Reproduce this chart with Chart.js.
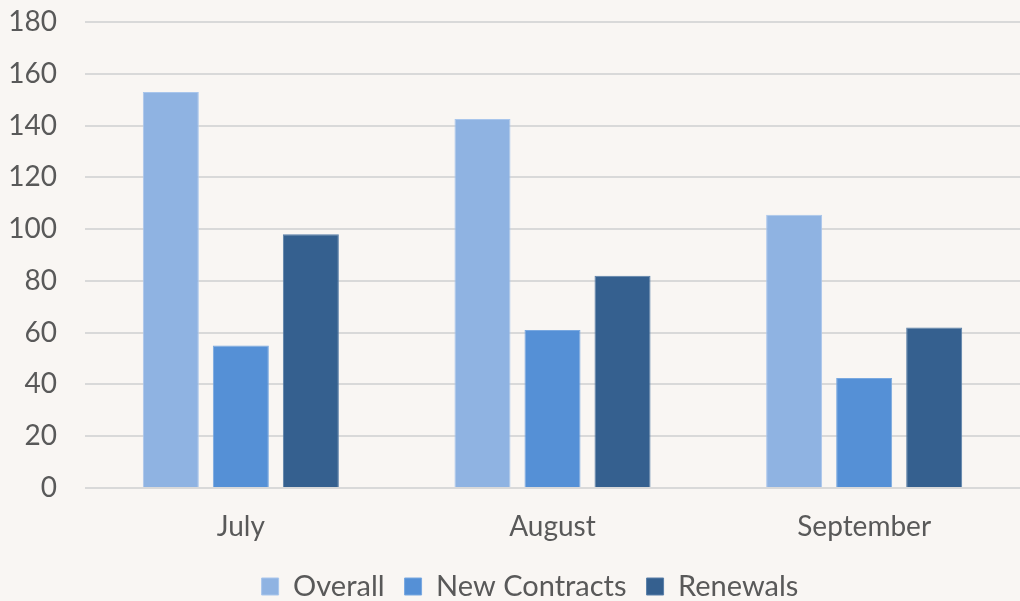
<!DOCTYPE html>
<html><head><meta charset="utf-8">
<script src="https://cdn.jsdelivr.net/npm/chart.js@4/dist/chart.umd.min.js"></script>
<style>html,body{margin:0;padding:0;background:#F9F6F3;}#wrap{width:1020px;height:601px;}</style>
</head><body><div id="wrap"><canvas id="c" width="1020" height="601"></canvas></div>
<script>
const categories = ["July", "August", "September"];
const overall = [153, 142.5, 105.5];
const newContracts = [55, 61, 42.5];
const renewals = [98, 82, 62];
const yTicks = [0, 20, 40, 60, 80, 100, 120, 140, 160, 180];

const bg = {id:'bg', beforeDraw(c){const x=c.ctx;x.save();x.fillStyle='#F9F6F3';x.fillRect(0,0,c.width,c.height);x.restore();}};
const legendShift = {id:'legendShift', afterLayout(c){ if(c.legend){ c.legend.left += 20; c.legend.right += 20; } }};
const FONT = "Lato, 'Open Sans', sans-serif";
new Chart(document.getElementById('c'), {
  type: 'bar',
  data: {
    labels: categories,
    datasets: [
      {label:'Overall', data: overall, backgroundColor:'#8FB3E2', borderColor:'#A9C6EC', borderWidth:1},
      {label:'New Contracts', data: newContracts, backgroundColor:'#5590D6', borderColor:'#79A8E0', borderWidth:1},
      {label:'Renewals', data: renewals, backgroundColor:'#35608F', borderColor:'#5A7FA8', borderWidth:1}
    ]
  },
  options: {
    responsive:false, animation:false,
    layout:{padding:{top:22,right:0,left:0,bottom:-10}},
    datasets:{bar:{categoryPercentage:0.674, barPercentage:0.8}},
    plugins:{
      tooltip:{enabled:false},
      legend:{position:'bottom', labels:{font:{family:FONT,size:29}, color:'#595959', boxWidth:17, boxHeight:17, padding:20}}
    },
    scales:{
      x:{grid:{display:false, drawTicks:false}, border:{display:false},
         ticks:{font:{family:FONT,size:28}, color:'#595959', padding:22},
         afterFit(s){s.height=64;}},
      y:{min:0,max:180, afterBuildTicks(s){s.ticks = yTicks.map(v=>({value:v}));},
         grid:{color:'#D9D9D9', lineWidth:2, drawTicks:false}, border:{display:false},
         ticks:{font:{family:FONT,size:28}, color:'#595959', padding:28},
         afterFit(s){s.width=85; s.paddingTop=0; s.paddingBottom=0;}}
    }
  },
  plugins:[bg, legendShift]
});
</script></body></html>
